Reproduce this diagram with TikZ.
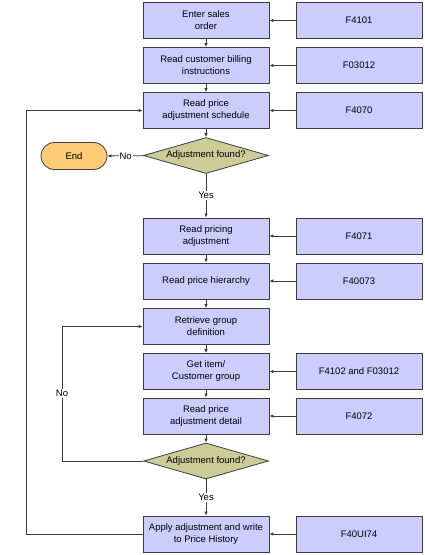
\documentclass[tikz,border=0pt]{standalone}
\usepackage{fontspec}
\setmainfont{Liberation Sans}
\usepackage{xcolor}
\usetikzlibrary{positioning,calc,shapes.geometric,shapes.misc,arrows.meta}
\definecolor{boxfill}{RGB}{204,204,255}
\definecolor{decfill}{RGB}{204,204,153}
\definecolor{endfill}{RGB}{252,204,119}
\definecolor{edgegray}{RGB}{60,60,60}

\begin{document}
\begin{tikzpicture}[x=1pt,y=-1pt]
	\tikzset{
		task/.style={rectangle, draw=edgegray, fill=boxfill, line width=0.8pt,
			minimum width=126pt, minimum height=36pt, inner sep=1pt,
			align=center, font=\fontsize{9.5}{12}\selectfont},
		table/.style={task},
		test/.style={diamond, draw=edgegray, fill=decfill, line width=0.8pt,
			aspect=3.5, minimum width=125pt, minimum height=36pt, inner sep=0pt,
			font=\fontsize{9.5}{12}\selectfont},
		stop/.style={rounded rectangle, draw=edgegray, fill=endfill, line width=0.8pt,
			minimum width=66pt, minimum height=27pt, inner sep=0pt,
			font=\fontsize{9.5}{12}\selectfont},
		flow/.style={-{Latex[length=4pt,width=3.5pt]}, draw=edgegray, line width=0.8pt},
		tag/.style={fill=white, inner sep=1pt, font=\fontsize{9.5}{12}\selectfont}
	}
	\useasboundingbox (0,0) rectangle (425,555);

	% MAIN COLUMN
	\node[task] (order) at (206, 20.5) {Enter sales\\order};
	\node[task] (billing) at (206, 65.5) {Read customer billing\\instructions};
	\node[task] (schedule) at (206,110.5) {Read price\\adjustment schedule};
	\node[test] (found1) at (206,155.5) {Adjustment found?};
	\node[stop] (finish) at (74,156) {End};
	\node[task] (pricing) at (206,236) {Read pricing\\adjustment};
	\node[task] (hierarchy) at (206,281) {Read price hierarchy};
	\node[task] (groupdef) at (206,326.5) {Retrieve group\\definition};
	\node[task] (custgroup) at (206,371.5) {Get item/\\Customer group};
	\node[task] (detail) at (206,416) {Read price\\adjustment detail};
	\node[test] (found2) at (206,461) {Adjustment found?};
	\node[task] (history) at (206,534) {Apply adjustment and write\\to Price History};

	% TABLES
	\node[table] (t4101) at (359, 20.5) {F4101};
	\node[table] (t03012) at (359, 65.5) {F03012};
	\node[table] (t4070) at (359,110.5) {F4070};
	\node[table] (t4071) at (359,236) {F4071};
	\node[table] (t40073) at (359,281) {F40073};
	\node[table] (t4102) at (359,371.5) {F4102 and F03012};
	\node[table] (t4072) at (359,416) {F4072};
	\node[table] (t40ui74) at (359,534) {F40UI74};

	\draw[flow] (t4101) -- (order);
	\draw[flow] (t03012) -- (billing);
	\draw[flow] (t4070) -- (schedule);
	\draw[flow] (t4071) -- (pricing);
	\draw[flow] (t40073) -- (hierarchy);
	\draw[flow] (t4102) -- (custgroup);
	\draw[flow] (t4072) -- (detail);
	\draw[flow] (t40ui74) -- (history);

	\draw[flow] (order) -- (billing);
	\draw[flow] (billing) -- (schedule);
	\draw[flow] (schedule) -- (found1);
	\draw[flow] (found1) -- node[tag] {No} (finish);
	\draw[flow] (found1) -- node[tag] {Yes} (pricing);
	\draw[flow] (pricing) -- (hierarchy);
	\draw[flow] (hierarchy) -- (groupdef);
	\draw[flow] (groupdef) -- (custgroup);
	\draw[flow] (custgroup) -- (detail);
	\draw[flow] (detail) -- (found2);
	\draw[flow] (found2) -- node[tag] {Yes} (history);

	% LOOPS
	\coordinate (innerloop) at (62,461);
	\coordinate (outerloop) at (26,534);
	\draw[flow] (found2.west) -- (innerloop) |- node[tag, pos=0.25] {No} (groupdef.west);
	\draw[flow] (history.west) -- (outerloop) |- (schedule.west);
\end{tikzpicture}
\end{document}
